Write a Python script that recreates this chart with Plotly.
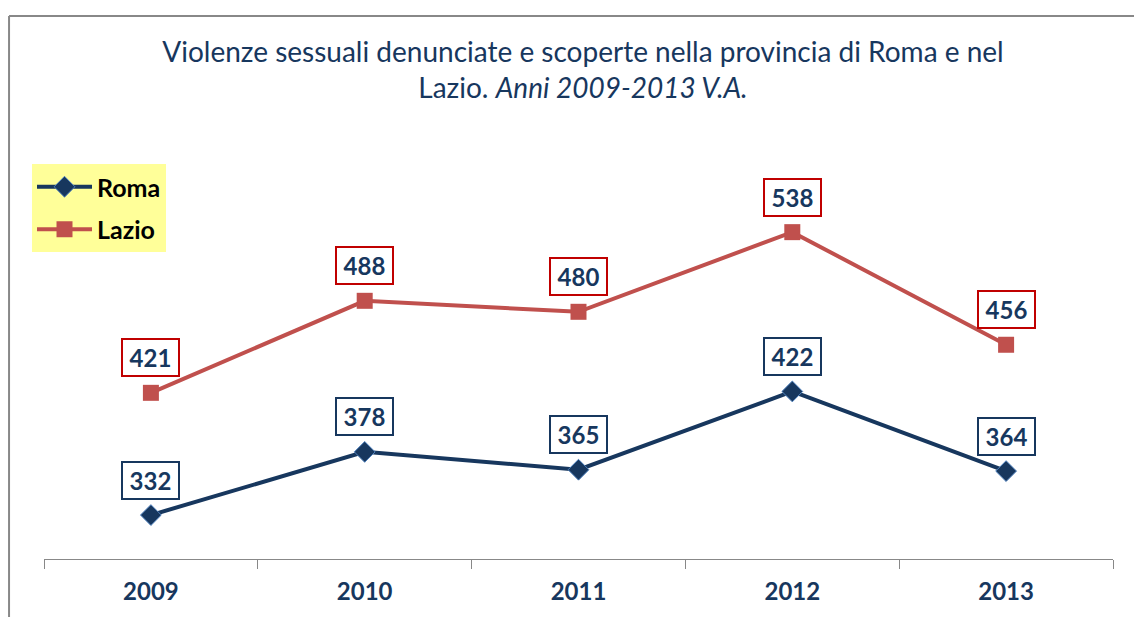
import plotly.graph_objects as go

years = ["2009", "2010", "2011", "2012", "2013"]
roma = [332, 378, 365, 422, 364]
lazio = [421, 488, 480, 538, 456]

NAVY = "#17375E"
RED_LINE = "#C0504D"
RED_BOX = "#C00000"

W, H = 1134, 609  # page adds an 8px body margin

fig = go.Figure()
fig.add_trace(go.Scatter(
    x=years, y=roma, name="Roma", mode="lines+markers", legendgroup="a",
    line=dict(color=NAVY, width=4),
    marker=dict(symbol="diamond", size=16, color=NAVY, line=dict(color="#4F81BD", width=1)),
))
fig.add_trace(go.Scatter(
    x=years, y=lazio, name="Lazio", mode="lines+markers", legendgroup="b",
    line=dict(color=RED_LINE, width=4),
    marker=dict(symbol="square", size=16, color=RED_LINE),
))

ann = []
for series, color in ((roma, NAVY), (lazio, RED_BOX)):
    for i, v in enumerate(series):
        ann.append(dict(
            x=i, y=v, xref="x", yref="y", text=f"<b>{v}</b>", showarrow=False,
            yshift=35, width=51, height=31,
            font=dict(family="Lato", size=24, color=NAVY),
            bgcolor="white", bordercolor=color, borderwidth=2, borderpad=2,
        ))

fig.update_layout(
    width=W, height=H,
    margin=dict(l=36, r=29, t=139, b=58, autoexpand=False),
    paper_bgcolor="white", plot_bgcolor="white",
    showlegend=True,
    title=dict(
        text="Violenze sessuali denunciate e scoperte nella provincia di Roma e nel<br>Lazio. <i>Anni 2009-2013 V.A.</i>",
        x=575 / W, xanchor="center", y=1 - 54 / H, yanchor="top",
        font=dict(family="Lato", size=28, color=NAVY),
    ),
    legend=dict(
        x=24 / W, y=1 - 156 / H, xref="container", yref="container",
        font=dict(family="Lato", size=25, color="black", weight="bold"),
        bgcolor="#FFFF99", itemwidth=55, tracegroupgap=7, traceorder="grouped",
        xanchor="left", yanchor="top",
    ),
    xaxis=dict(
        type="category", range=[-0.5, 4.5], showgrid=False,
        showline=True, linecolor="#888888", linewidth=1,
        ticks="outside", tickson="boundaries", ticklen=9, tickcolor="#888888",
        ticklabelstandoff=11,
        tickfont=dict(family="Lato", size=24, color=NAVY, weight="bold"),
    ),
    yaxis=dict(range=[300, 600], visible=False, showgrid=False),
    annotations=ann,
    shapes=[
        dict(type="line", xref="paper", yref="paper", x0=-0.0327, x1=-0.0327, y0=-0.2, y1=1.318,
             line=dict(color="#888888", width=2)),
        dict(type="line", xref="paper", yref="paper", x0=-0.0327, x1=1.05, y0=1.318, y1=1.318,
             line=dict(color="#888888", width=2)),
    ],
)

fig.write_html("out.html")
